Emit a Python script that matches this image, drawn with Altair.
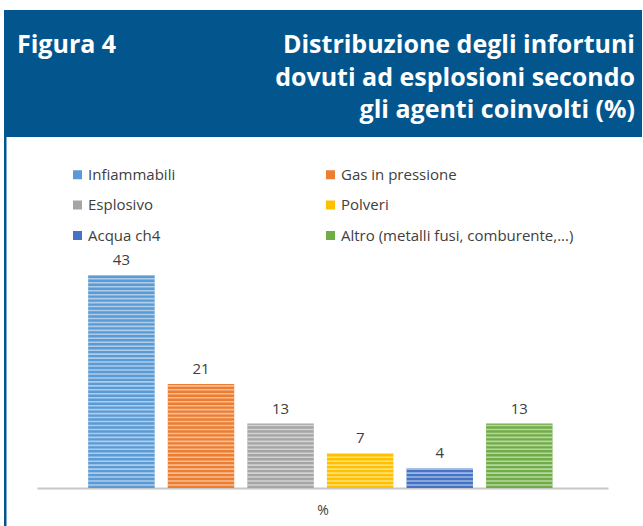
import altair as alt
import pandas as pd

# ---- data ----
series = ["Infiammabili", "Gas in pressione", "Esplosivo", "Polveri", "Acqua ch4",
          "Altro (metalli fusi, comburente,...)"]
values = [43, 21, 13, 7, 4, 13]
colors = ["#5B9BD5", "#ED7D31", "#A5A5A5", "#FFC000", "#4472C4", "#70AD47"]
category_label = "%"
fig_label = "Figura 4"
title_lines = ["Distribuzione degli infortuni", "dovuti ad esplosioni secondo",
               "gli agenti coinvolti (%)"]

df = pd.DataFrame({"Serie": series, "Valore": values})
one = pd.DataFrame({"k": [0]})

HEADER = "#03568D"
FONT = "Open Sans"
W, H = 571, 223

xenc = alt.X("Serie:N", sort=series,
             scale=alt.Scale(paddingInner=0.165, paddingOuter=0.67, align=0.48),
             axis=alt.Axis(labels=False, ticks=False, domainColor="#C8C8C8",
                           domainWidth=2, title=category_label, titleFont=FONT,
                           titleFontSize=14, titleFontWeight="normal",
                           titleColor="#404040", titlePadding=15))
yenc = alt.Y("Valore:Q", scale=alt.Scale(domain=[0, 45], nice=False), axis=None)

base = alt.Chart(df)

bars = base.mark_bar().encode(
    x=xenc, y=yenc,
    color=alt.Color("Serie:N", sort=series,
                    scale=alt.Scale(domain=series, range=colors),
                    legend=alt.Legend(orient="none", legendX=33, legendY=-98,
                                      columns=2, direction="horizontal",
                                      columnPadding=147, rowPadding=14.5,
                                      symbolType="square", symbolSize=81,
                                      symbolStrokeWidth=0, labelOffset=3,
                                      labelFont=FONT, labelFontSize=15,
                                      labelColor="#404040", labelLimit=400,
                                      title=None, padding=0)),
)

stripes = base.transform_calculate(
    s="sequence(0.45, datum.Valore, 0.8)"
).transform_flatten(["s"]).transform_calculate(
    s2="min(datum.s + 0.32, datum.Valore)"
).mark_bar(color="white", opacity=0.5).encode(
    x=alt.X("Serie:N", sort=series),
    y=alt.Y("s:Q"), y2="s2:Q",
)

labels = base.mark_text(font=FONT, fontSize=15, color="#404040",
                        baseline="alphabetic", dy=-10).encode(
    x=alt.X("Serie:N", sort=series), y=alt.Y("Valore:Q"),
    text=alt.Text("Valore:Q"),
)

header = alt.Chart(one).mark_rect(color=HEADER).encode(
    x=alt.value(-33), x2=alt.value(605), y=alt.value(-255), y2=alt.value(-128))
border = alt.Chart(one).mark_rect(color=HEADER).encode(
    x=alt.value(-33), x2=alt.value(-30.5), y=alt.value(-129), y2=alt.value(262))
fig_text = alt.Chart(one).mark_text(
    font=FONT, fontSize=25, fontWeight="bold", color="white",
    align="left", baseline="alphabetic").encode(
    x=alt.value(-20), y=alt.value(-212), text=alt.value(fig_label))
title_text = alt.Chart(one).mark_text(
    font=FONT, fontSize=25, fontWeight="bold", color="white",
    align="right", baseline="alphabetic", lineHeight=32.5).encode(
    x=alt.value(598), y=alt.value(-212), text=alt.value(title_lines))

chart = alt.layer(header, border, fig_text, title_text, bars, stripes, labels).properties(
    width=W, height=H,
    autosize=alt.AutoSizeParams(type="none"),
    padding={"left": 37, "top": 265, "right": 35, "bottom": 38},
    background="white",
).configure_view(stroke=None)

chart.save("out.html", embed_options={"renderer": "svg", "actions": False})
